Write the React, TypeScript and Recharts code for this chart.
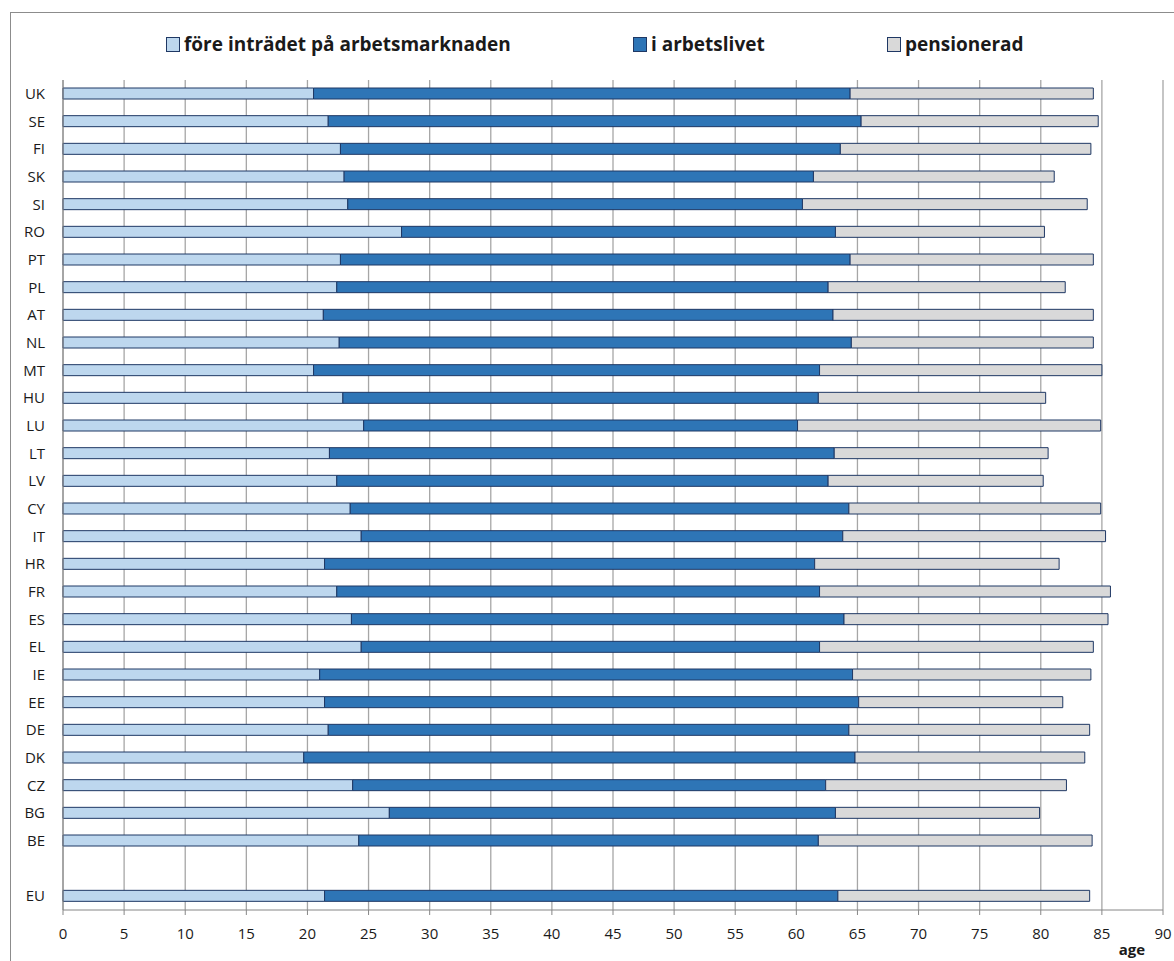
import {
  BarChart,
  Bar,
  XAxis,
  YAxis,
  CartesianGrid,
  Legend,
} from "recharts";

// countries, top to bottom as in the figure ("" = empty spacer row before EU)
const countries = [
  "UK", "SE", "FI", "SK", "SI", "RO", "PT", "PL", "AT", "NL",
  "MT", "HU", "LU", "LT", "LV", "CY", "IT", "HR", "FR", "ES",
  "EL", "IE", "EE", "DE", "DK", "CZ", "BG", "BE", "", "EU",
];

// age when entering the labour market
const entryAge = [
  20.5, 21.7, 22.7, 23.0, 23.3, 27.7, 22.7, 22.4, 21.3, 22.6,
  20.5, 22.9, 24.6, 21.8, 22.4, 23.5, 24.4, 21.4, 22.4, 23.6,
  24.4, 21.0, 21.4, 21.7, 19.7, 23.7, 26.7, 24.2, null, 21.4,
];

// age when leaving working life
const exitAge = [
  64.4, 65.3, 63.6, 61.4, 60.5, 63.2, 64.4, 62.6, 63.0, 64.5,
  61.9, 61.8, 60.1, 63.1, 62.6, 64.3, 63.8, 61.5, 61.9, 63.9,
  61.9, 64.6, 65.1, 64.3, 64.8, 62.4, 63.2, 61.8, null, 63.4,
];

// life expectancy (end of the pension period)
const lifeExpectancy = [
  84.3, 84.7, 84.1, 81.1, 83.8, 80.3, 84.3, 82.0, 84.3, 84.3,
  85.0, 80.4, 84.9, 80.6, 80.2, 84.9, 85.3, 81.5, 85.7, 85.5,
  84.3, 84.1, 81.8, 84.0, 83.6, 82.1, 79.9, 84.2, null, 84.0,
];

const xTicks = [0, 5, 10, 15, 20, 25, 30, 35, 40, 45, 50, 55, 60, 65, 70, 75, 80, 85, 90];

const seriesNames = ["före inträdet på arbetsmarknaden", "i arbetslivet", "pensionerad"];
const colors = ["#bdd7ee", "#2e75b6", "#d9d9d9"];
const edge = "#1f3864";
const font = "'Open Sans', sans-serif";

const data = countries.map((c, i) => {
  const a = entryAge[i];
  const b = exitAge[i];
  const e = lifeExpectancy[i];
  return {
    country: c,
    before: a,
    working: a == null || b == null ? null : b - a,
    retired: b == null || e == null ? null : e - b,
  };
});

const boundaryTicks = Array.from({ length: countries.length + 1 }, (_, i) => i);

const legendLeft = [166, 633, 887];

function LegendContent() {
  return (
    <div style={{ position: "relative", width: 1174, height: 24 }}>
      {seriesNames.map((name, i) => (
        <div
          key={name}
          style={{
            position: "absolute",
            left: legendLeft[i],
            top: 0,
            display: "flex",
            alignItems: "center",
            height: 24,
            fontFamily: font,
            fontWeight: 700,
            fontSize: 19,
            color: "#1a1a1a",
            whiteSpace: "nowrap",
          }}
        >
          <span
            style={{
              display: "inline-block",
              width: 12,
              height: 13,
              background: colors[i],
              border: `1px solid ${edge}`,
              marginRight: 4,
            }}
          />
          {name}
        </div>
      ))}
    </div>
  );
}

function AgeLabel({ viewBox }: any) {
  return (
    <text
      x={viewBox.x + viewBox.width - 31}
      y={viewBox.y + 45}
      textAnchor="middle"
      fontFamily={font}
      fontWeight={700}
      fontSize={15}
      fill="#1a1a1a"
    >
      age
    </text>
  );
}

export default function App() {
  return (
    <div style={{ position: "fixed", left: 0, top: 0, width: 1174, height: 961, background: "#fff" }}>
      <div
        style={{
          position: "absolute",
          left: 10,
          top: 12,
          width: 1170,
          height: 960,
          borderTop: "1px solid #8c8c8c",
          borderLeft: "1px solid #8c8c8c",
        }}
      />
      <div style={{ position: "absolute", left: 0, top: 0 }}>
        <BarChart
          width={1174}
          height={961}
          data={data}
          layout="vertical"
          barSize={11}
          margin={{ top: 80, right: 11, bottom: 11, left: 13 }}
        >
          <CartesianGrid horizontal={false} stroke="#a6a6a6" strokeWidth={1.3} />
          <XAxis
            type="number"
            domain={[0, 90]}
            ticks={xTicks}
            interval={0}
            height={40}
            axisLine={{ stroke: "#868686" }}
            tickLine={{ stroke: "#868686" }}
            tickSize={5}
            tickMargin={13}
            tick={{ fontFamily: font, fontSize: 15, fill: "#1a1a1a" }}
            label={<AgeLabel />}
          />
          <YAxis
            type="category"
            dataKey="country"
            width={50}
            axisLine={{ stroke: "#868686" }}
            tickLine={false}
            tickMargin={12}
            interval={0}
            tick={{ fontFamily: font, fontSize: 15, fill: "#1a1a1a" }}
          />
          <YAxis
            yAxisId="bounds"
            type="number"
            domain={[0, countries.length]}
            ticks={boundaryTicks}
            interval={0}
            width={0}
            axisLine={false}
            tick={false}
            tickSize={5}
            tickLine={{ stroke: "#868686" }}
          />
          <Legend
            verticalAlign="middle"
            align="center"
            layout="horizontal"
            wrapperStyle={{ top: 32, left: 0, width: 1174 }}
            content={<LegendContent />}
          />
          <Bar dataKey="before" name={seriesNames[0]} stackId="age" fill={colors[0]} stroke={edge} strokeWidth={1} isAnimationActive={false} />
          <Bar dataKey="working" name={seriesNames[1]} stackId="age" fill={colors[1]} stroke={edge} strokeWidth={1} isAnimationActive={false} />
          <Bar dataKey="retired" name={seriesNames[2]} stackId="age" fill={colors[2]} stroke={edge} strokeWidth={1} isAnimationActive={false} />
        </BarChart>
      </div>
    </div>
  );
}
